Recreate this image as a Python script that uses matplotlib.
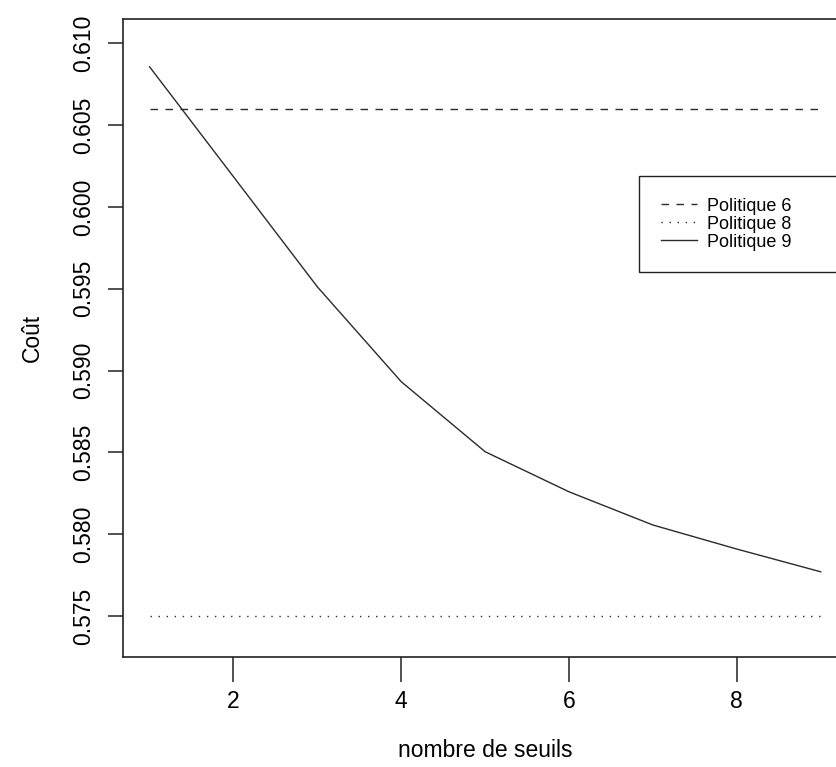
import numpy as np
import matplotlib
matplotlib.use('Agg')
import matplotlib.pyplot as plt

plt.rcParams['font.family'] = ['Liberation Sans', 'DejaVu Sans']

# données
seuils = [1, 2, 3, 4, 5, 6, 7, 8, 9]
cout_politique9 = [0.60857, 0.60185, 0.59512, 0.58932, 0.58504, 0.58259, 0.58056, 0.57909, 0.57770]
cout_politique6 = 0.60600
cout_politique8 = 0.57500

fig = plt.figure(figsize=(8.37, 7.67), dpi=100)
ax = fig.add_axes([0.1466, 0.1438, 0.866, 0.8310])

trait = '#2b2b2b'
ax.plot([seuils[0], seuils[-1]], [cout_politique6] * 2, color=trait, lw=1,
        linestyle=(0, (5.4, 5.4)), label='Politique 6')
ax.plot([seuils[0], seuils[-1]], [cout_politique8] * 2, color=trait, lw=1,
        linestyle=(0, (1.0, 4.8)), label='Politique 8')
ax.plot(seuils, cout_politique9, color=trait, lw=1, label='Politique 9')

ax.set_xlim(0.68, 9.32)
ax.set_ylim(0.57251, 0.61147)
ax.set_xticks([2, 4, 6, 8])
ax.set_yticks(np.arange(0.575, 0.6101, 0.005))
ax.set_yticklabels([f'{v:.3f}' for v in np.arange(0.575, 0.6101, 0.005)])

for s in ax.spines.values():
    s.set_linewidth(1.2)
    s.set_color('#222222')
ax.tick_params(axis='x', length=18, width=1.1, pad=6, labelsize=16.5, color='#222222')
ax.tick_params(axis='y', length=11, width=1.1, pad=9, labelsize=16.5, color='#222222',
               labelrotation=90)
for lab in ax.get_yticklabels():
    lab.set_va('center')

ax.set_xlabel('nombre de seuils', fontsize=16.5, labelpad=19)
ax.set_ylabel('Coût', fontsize=16.5, labelpad=20)

leg = ax.legend(loc='upper left', bbox_to_anchor=(0.7123, 0.60, 0.33, 0.1541),
                mode='expand', fontsize=13, frameon=True, fancybox=False,
                borderpad=1.2, labelspacing=0.05, handlelength=2.0,
                handletextpad=0.55, borderaxespad=0)
leg.get_frame().set_edgecolor('#222222')
leg.get_frame().set_linewidth(1.0)
leg.get_frame().set_alpha(1)

fig.savefig('out.png', dpi=100)
